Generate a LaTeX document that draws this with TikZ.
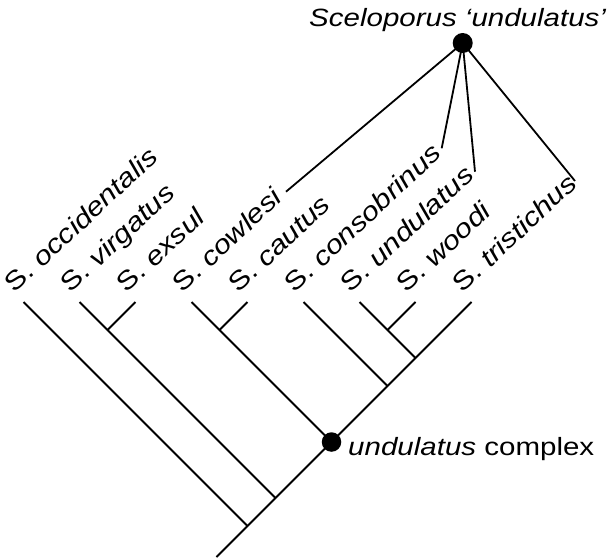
\documentclass[tikz,border=0pt]{standalone}
\usepackage{fontspec}
\setmainfont{Liberation Sans}
\begin{document}
\begin{tikzpicture}[x=1pt,y=-1pt,
  branch/.style={line width=1.8pt},
  dot/.style={circle,fill=black,inner sep=0pt,minimum size=19.5pt},
  taxon/.style={anchor=base west,inner sep=0pt,rotate=43,xscale=1.18,
    font=\fontsize{26}{30}\selectfont},
  caption/.style={anchor=base west,inner sep=0pt,xscale=1.18,
    font=\fontsize{25}{30}\selectfont}]
\useasboundingbox (0,0) rectangle (610,557);

% leaf tips
\foreach \i in {0,...,8} \coordinate (t\i) at ({23.5+56*\i},302);

% internal branching points
\coordinate (root) at (216.5,557);
\coordinate (n0) at (247.5,526);
\coordinate (n1) at (275.5,498);
\coordinate (n3) at (387.5,386);
\coordinate (n4) at (415.5,358);
\coordinate (a12) at (107.5,330);
\coordinate (a34) at (219.5,330);
\coordinate (a67) at (387.5,330);
\node[dot] (cx) at (331.5,442) {};

% taxon labels
\foreach \i/\name in {0/occidentalis,1/virgatus,2/exsul,3/cowlesi,4/cautus,
  5/consobrinus,6/undulatus,7/woodi,8/tristichus}
  \node[taxon] (l\i) at ({14.5+56*\i},294) {S. \textit{\name}};

% backbone and side branches
\draw[branch] (root) -- (n0) -- (n1) -- (cx.center) -- (n3) -- (n4) -- (t8);
\draw[branch] (n0) -- (t0);
\draw[branch] (n1) -- (a12) -- (t1);
\draw[branch] (a12) -- (t2);
\draw[branch] (cx.center) -- (a34) -- (t3);
\draw[branch] (a34) -- (t4);
\draw[branch] (n3) -- (t5);
\draw[branch] (n4) -- (a67) -- (t6);
\draw[branch] (a67) -- (t7);

\node[caption] (cxlab) at (348,455) {\textit{undulatus} complex};

% Sceloporus 'undulatus' and the taxa it lumps together
\node[dot,minimum size=20pt] (top) at (462.7,43) {};
\node[caption,font=\fontsize{25}{30}\selectfont\itshape] (title) at (309,26.7)
  {Sceloporus ‘undulatus’};
\coordinate (e3) at (286,191.7);
\coordinate (e5) at (441.7,148.3);
\coordinate (e6) at (475,171.7);
\coordinate (e8) at (575,181);
\foreach \e in {e3,e5,e6,e8} \draw[branch] (top.center) -- (\e);
\end{tikzpicture}
\end{document}
